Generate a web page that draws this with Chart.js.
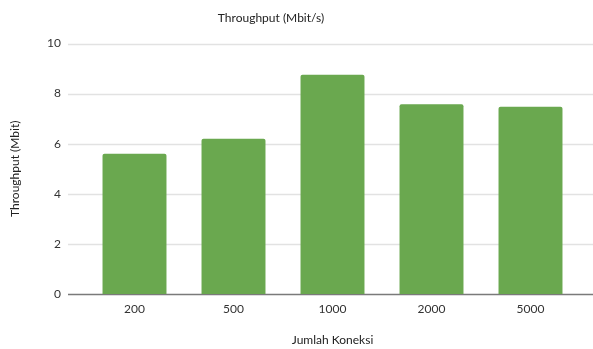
<!DOCTYPE html>
<html>
<head>
<meta charset="utf-8">
<script src="https://cdn.jsdelivr.net/npm/chart.js@4/dist/chart.umd.min.js"></script>
<style>
  html, body { margin: 0; padding: 0; background: #fff; }
  #wrap { width: 593px; height: 349px; position: relative; }
</style>
</head>
<body>
<div id="wrap"><canvas id="c" width="593" height="349"></canvas></div>
<script>
// Connection counts and measured throughput
const connections = ['200', '500', '1000', '2000', '5000'];
const throughput = [5.6, 6.2, 8.75, 7.57, 7.48];
const yTicks = [0, 2, 4, 6, 8, 10];

const chartTitle = 'Throughput (Mbit/s)';
const xTitle = 'Jumlah Koneksi';
const yTitle = 'Throughput (Mbit)';

const FONT = 'Lato, "Open Sans", sans-serif';
const TEXT = '#333333';

// Horizontal gridlines that run past the plot edges, with a darker baseline at 0
const spanGrid = {
  id: 'spanGrid',
  beforeDatasetsDraw(chart) {
    const { ctx, chartArea, scales: { y } } = chart;
    ctx.save();
    y.ticks.forEach(t => {
      const py = Math.round(y.getPixelForValue(t.value)) + 0.5;
      ctx.beginPath();
      ctx.strokeStyle = t.value === 0 ? '#7a7a7a' : '#e2e2e2';
      ctx.lineWidth = 1.5;
      ctx.moveTo(chartArea.left - 17, py);
      ctx.lineTo(chart.width, py);
      ctx.stroke();
    });
    ctx.restore();
  }
};

// Chart heading
const heading = {
  id: 'heading',
  afterDraw(chart) {
    const { ctx } = chart;
    ctx.save();
    ctx.font = '12px ' + FONT;
    ctx.fillStyle = '#222222';
    ctx.textAlign = 'center';
    ctx.textBaseline = 'middle';
    ctx.fillText(chartTitle, 271, 18);
    ctx.restore();
  }
};

new Chart(document.getElementById('c'), {
  type: 'bar',
  data: {
    labels: connections,
    datasets: [{
      label: chartTitle,
      data: throughput,
      backgroundColor: '#6aa84f',
      borderRadius: 2,
      borderSkipped: 'bottom',
      categoryPercentage: 1.0,
      barPercentage: 0.646
    }]
  },
  options: {
    responsive: false,
    animation: false,
    layout: { padding: { top: 43.5, right: 13, left: 0, bottom: 0 } },
    plugins: { legend: { display: false }, tooltip: { enabled: false }, title: { display: false } },
    scales: {
      x: {
        grid: { display: false, drawTicks: false },
        border: { display: false },
        ticks: { color: TEXT, font: { family: FONT, size: 12 }, padding: 8, maxRotation: 0 },
        title: { display: true, text: xTitle, color: '#222222', font: { family: FONT, size: 12 }, padding: { top: 4, bottom: 2 } },
        afterFit(s) { s.height = 55; }
      },
      y: {
        min: 0, max: 10,
        afterBuildTicks(s) { s.ticks = yTicks.map(v => ({ value: v })); },
        grid: { display: false, drawTicks: false },
        border: { display: false },
        ticks: { color: TEXT, font: { family: FONT, size: 12 }, padding: 24 },
        title: { display: true, text: yTitle, color: '#222222', font: { family: FONT, size: 12 }, padding: { top: 8, bottom: 4 } },
        afterFit(s) { s.width = 85; }
      }
    }
  },
  plugins: [spanGrid, heading]
});
</script>
</body>
</html>
